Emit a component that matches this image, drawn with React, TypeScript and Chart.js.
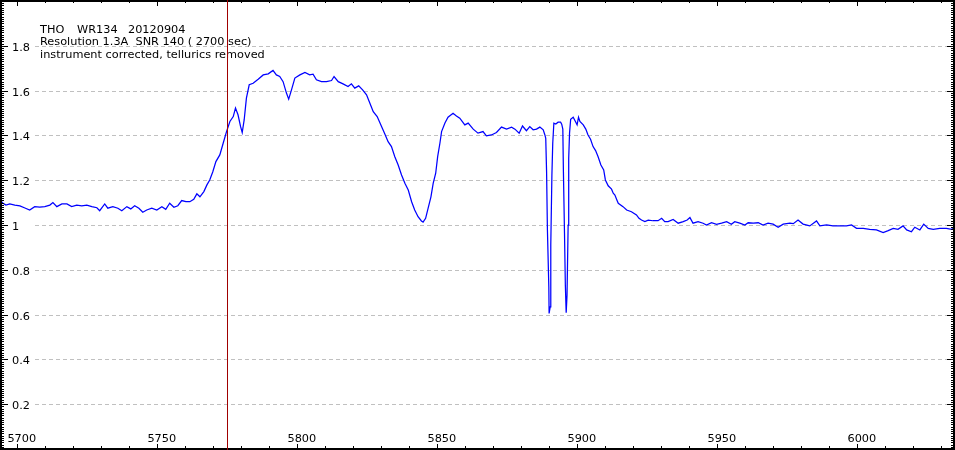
import React, { useEffect, useRef } from "react";
import { Chart, registerables } from "chart.js";

Chart.register(...registerables);

// Wavelength (Angstrom) and relative flux
const wavelength: number[] = [
  5694.3, 5695.0, 5696.1, 5697.5, 5699.3, 5701.1, 5702.9, 5704.6, 5706.4, 5708.2,
  5710.0, 5711.8, 5712.9, 5714.3, 5716.1, 5717.9, 5719.6, 5721.4, 5723.2, 5725.0,
  5726.8, 5728.6, 5729.6, 5731.4, 5732.5, 5734.3, 5736.1, 5737.5, 5739.3, 5740.7,
  5742.1, 5743.6, 5745.0, 5746.4, 5748.2, 5750.0, 5751.8, 5753.2, 5754.6, 5756.1,
  5757.5, 5758.9, 5760.4, 5761.8, 5763.2, 5764.3, 5765.4, 5766.8, 5767.9, 5768.9,
  5770.0, 5771.1, 5772.5, 5773.7, 5774.9, 5776.1, 5777.3, 5778.1, 5779.0, 5779.9,
  5780.5, 5781.2, 5782.0, 5783.0, 5784.4, 5786.2, 5788.0, 5789.8, 5791.5, 5792.7,
  5793.9, 5795.1, 5796.3, 5797.1, 5798.1, 5799.3, 5801.1, 5802.9, 5804.6, 5805.8,
  5807.0, 5808.8, 5810.6, 5812.4, 5813.3, 5814.8, 5816.5, 5818.3, 5819.5, 5820.7,
  5822.1, 5823.5, 5824.9, 5826.1, 5827.3, 5828.7, 5830.3, 5831.4, 5832.6, 5833.8,
  5835.0, 5836.2, 5837.4, 5838.6, 5839.8, 5841.0, 5842.1, 5843.3, 5844.5, 5845.1,
  5846.0, 5846.9, 5847.9, 5848.7, 5849.6, 5850.3, 5851.1, 5851.7, 5852.9, 5854.0,
  5855.8, 5857.0, 5858.2, 5860.0, 5861.2, 5863.0, 5864.7, 5866.5, 5867.7, 5869.5,
  5871.3, 5873.1, 5874.9, 5876.7, 5877.9, 5879.4, 5880.6, 5882.0, 5883.2, 5884.4,
  5885.6, 5886.8, 5888.0, 5888.6, 5888.9, 5889.2, 5889.5, 5890.0, 5890.1, 5890.5,
  5890.7, 5891.1, 5891.4, 5891.8, 5892.5, 5893.3, 5894.2, 5894.6, 5895.0, 5895.2,
  5895.6, 5895.9, 5896.2, 5896.5, 5896.9, 5897.1, 5897.4, 5897.8, 5898.7, 5899.5,
  5900.1, 5900.6, 5901.1, 5902.3, 5903.2, 5904.0, 5904.9, 5905.8, 5906.7, 5907.6,
  5908.6, 5909.6, 5910.2, 5911.2, 5912.4, 5913.0, 5913.6, 5914.3, 5914.8, 5916.5,
  5917.8, 5919.5, 5921.3, 5922.2, 5923.1, 5924.3, 5925.5, 5927.2, 5929.0, 5930.3,
  5931.4, 5932.6, 5934.4, 5936.2, 5938.0, 5939.4, 5940.4, 5941.5, 5943.3, 5945.1,
  5946.3, 5948.1, 5949.9, 5951.7, 5953.5, 5955.2, 5956.4, 5958.2, 5960.0, 5961.2,
  5963.0, 5964.8, 5966.5, 5968.3, 5970.1, 5971.9, 5973.7, 5976.1, 5977.3, 5979.0,
  5980.8, 5983.2, 5985.6, 5986.8, 5989.2, 5991.5, 5993.9, 5996.3, 5998.1, 5999.9,
  6002.3, 6004.6, 6007.0, 6009.4, 6011.2, 6013.0, 6014.7, 6016.5, 6017.8, 6019.5,
  6020.7, 6022.5, 6023.9, 6025.5, 6027.3, 6029.6, 6032.0, 6033.8, 6034.6,
];

const flux: number[] = [
  1.107, 1.098, 1.089, 1.094, 1.089, 1.085, 1.076, 1.067, 1.082, 1.080,
  1.082, 1.089, 1.100, 1.082, 1.094, 1.094, 1.082, 1.089, 1.085, 1.089,
  1.082, 1.077, 1.064, 1.094, 1.075, 1.082, 1.075, 1.064, 1.082, 1.072,
  1.086, 1.075, 1.057, 1.067, 1.075, 1.067, 1.082, 1.070, 1.097, 1.079,
  1.086, 1.109, 1.104, 1.104, 1.115, 1.139, 1.126, 1.149, 1.179, 1.201,
  1.238, 1.283, 1.313, 1.365, 1.417, 1.462, 1.484, 1.522, 1.492, 1.440,
  1.413, 1.469, 1.566, 1.626, 1.633, 1.651, 1.670, 1.675, 1.690, 1.670,
  1.663, 1.640, 1.589, 1.562, 1.603, 1.656, 1.670, 1.681, 1.670, 1.673,
  1.648, 1.640, 1.640, 1.645, 1.663, 1.640, 1.630, 1.618, 1.630, 1.611,
  1.621, 1.603, 1.581, 1.544, 1.506, 1.484, 1.439, 1.407, 1.372, 1.350,
  1.305, 1.268, 1.223, 1.186, 1.156, 1.104, 1.067, 1.037, 1.018, 1.013,
  1.030, 1.075, 1.126, 1.186, 1.231, 1.305, 1.365, 1.417, 1.455, 1.481,
  1.499, 1.487, 1.477, 1.447, 1.455, 1.428, 1.410, 1.417, 1.398, 1.402,
  1.413, 1.437, 1.428, 1.437, 1.428, 1.410, 1.442, 1.421, 1.439, 1.425,
  1.428, 1.437, 1.425, 1.402, 1.387, 1.238, 0.978, 0.724, 0.605, 0.635,
  0.911, 1.223, 1.365, 1.455, 1.451, 1.459, 1.459, 1.450, 1.428, 1.246,
  0.963, 0.732, 0.608, 0.687, 1.000, 1.298, 1.410, 1.472, 1.481, 1.462,
  1.447, 1.481, 1.462, 1.447, 1.428, 1.402, 1.383, 1.350, 1.332, 1.305,
  1.268, 1.246, 1.201, 1.175, 1.160, 1.142, 1.134, 1.112, 1.097, 1.082,
  1.067, 1.059, 1.045, 1.030, 1.022, 1.015, 1.022, 1.019, 1.019, 1.030,
  1.015, 1.015, 1.025, 1.008, 1.015, 1.022, 1.033, 1.008, 1.015, 1.008,
  1.000, 1.010, 1.003, 1.008, 1.015, 1.003, 1.015, 1.008, 1.000, 1.010,
  1.008, 1.010, 1.000, 1.008, 1.004, 0.990, 1.004, 1.008, 1.006, 1.022,
  1.004, 0.996, 1.018, 0.996, 1.000, 0.996, 0.996, 0.996, 1.000, 0.985,
  0.985, 0.981, 0.978, 0.966, 0.975, 0.985, 0.981, 0.996, 0.978, 0.970,
  0.990, 0.978, 1.004, 0.985, 0.981, 0.985, 0.985, 0.981, 0.985,
];

const xMajorTicks: number[] = [5700, 5750, 5800, 5850, 5900, 5950, 6000];
const xTickLabels: string[] = ["5700", "5750", "5800", "5850", "5900", "5950", "6000"];
const yMajorTicks: number[] = [0.2, 0.4, 0.6, 0.8, 1.0, 1.2, 1.4, 1.6, 1.8];
const yTickLabels: string[] = ["0.2", "0.4", "0.6", "0.8", "1", "1.2", "1.4", "1.6", "1.8"];
const markerWavelength = 5775;
const headerLine1: string[] = ["THO", "WR134", "20120904"];
const headerLine2 = "Resolution 1.3A  SNR 140 ( 2700 sec)";
const headerLine3 = "instrument corrected, tellurics removed";

const X_MIN = 5694.0;
const X_MAX = 6034.7;
const Y_MIN = 0;
const Y_MAX = 2;

const FONT = "11.3px 'DejaVu Sans', Verdana, sans-serif";

const framePlugin = {
  id: "framePlugin",
  beforeDatasetsDraw(chart: any) {
    const ctx = chart.ctx as CanvasRenderingContext2D;
    const ys = chart.scales.y;
    ctx.save();
    ctx.fillStyle = "#ffffff";
    ctx.fillRect(0, 0, chart.width, chart.height);
    ctx.strokeStyle = "#c0c0c0";
    ctx.lineWidth = 1;
    ctx.setLineDash([4, 3]);
    for (const v of yMajorTicks) {
      const py = Math.round(ys.getPixelForValue(v)) + 0.5;
      ctx.beginPath();
      ctx.moveTo(35, py);
      ctx.lineTo(948, py);
      ctx.stroke();
    }
    ctx.restore();
  },
  afterDatasetsDraw(chart: any) {
    const ctx = chart.ctx as CanvasRenderingContext2D;
    const xs = chart.scales.x;
    const ys = chart.scales.y;
    const W = chart.width;
    const H = chart.height;
    ctx.save();
    ctx.fillStyle = "#000000";
    ctx.font = FONT;

    // header text
    ctx.textAlign = "left";
    ctx.textBaseline = "alphabetic";
    const l1x = [40, 77, 128];
    headerLine1.forEach((t, i) => ctx.fillText(t, l1x[i], 32.5));
    ctx.fillText(headerLine2, 40, 45);
    ctx.fillText(headerLine3, 40, 57.5);

    // y labels
    yMajorTicks.forEach((v, i) => {
      const py = ys.getPixelForValue(v);
      ctx.fillText(yTickLabels[i], 12, Math.round(py) + 4.5);
    });
    // x labels
    ctx.textAlign = "center";
    xMajorTicks.forEach((v, i) => {
      const px = xs.getPixelForValue(v);
      ctx.fillText(xTickLabels[i], px + 5, 442);
    });

    // y ticks (minor every 0.01, major every 0.2)
    for (let k = 0; k <= 200; k++) {
      const v = k / 100;
      const py = Math.round(ys.getPixelForValue(v));
      const major = k % 20 === 0;
      ctx.fillRect(0, py, major ? 8 : 4, 1);
      ctx.fillRect(major ? W - 8 : W - 4, py, major ? 8 : 4, 1);
    }
    // x ticks (minor every 10, major every 50)
    for (let v = 5700; v <= 6030; v += 10) {
      const px = Math.round(xs.getPixelForValue(v));
      const major = v % 50 === 0;
      ctx.fillRect(px, 0, 1, major ? 6 : 3);
      ctx.fillRect(px, major ? H - 6 : H - 4, 1, major ? 6 : 4);
    }

    // frame
    ctx.fillRect(0, 0, W, 2);
    ctx.fillRect(0, H - 2, W, 2);
    ctx.fillRect(0, 0, 2, H);
    ctx.fillRect(W - 2, 0, 2, H);

    // marker line
    const mx = Math.round(xs.getPixelForValue(markerWavelength)) + 0.5;
    ctx.strokeStyle = "#a00000";
    ctx.lineWidth = 1;
    ctx.beginPath();
    ctx.moveTo(mx, 0);
    ctx.lineTo(mx, H);
    ctx.stroke();
    ctx.restore();
  },
};

export default function App() {
  const canvasRef = useRef<HTMLCanvasElement | null>(null);

  useEffect(() => {
    if (!canvasRef.current) return;
    const points = wavelength.map((w, i) => ({ x: w, y: flux[i] }));
    const chart = new Chart(canvasRef.current, {
      type: "line",
      data: {
        datasets: [
          {
            data: points,
            borderColor: "#0000ff",
            borderWidth: 1.25,
            pointRadius: 0,
            tension: 0,
            fill: false,
          },
        ],
      },
      options: {
        animation: false,
        responsive: false,
        devicePixelRatio: 1,
        parsing: false,
        layout: { padding: { left: 0, right: 1, top: 1, bottom: 1 } },
        plugins: {
          legend: { display: false },
          tooltip: { enabled: false },
          title: { display: false },
        },
        scales: {
          x: { type: "linear", min: X_MIN, max: X_MAX, display: false },
          y: { type: "linear", min: Y_MIN, max: Y_MAX, display: false },
        },
      },
      plugins: [framePlugin],
    });
    return () => chart.destroy();
  }, []);

  return (
    <div style={{ position: "fixed", left: 0, top: 0, width: 955, height: 450, background: "#fff" }}>
      <canvas ref={canvasRef} width={955} height={450} style={{ display: "block" }} />
    </div>
  );
}
